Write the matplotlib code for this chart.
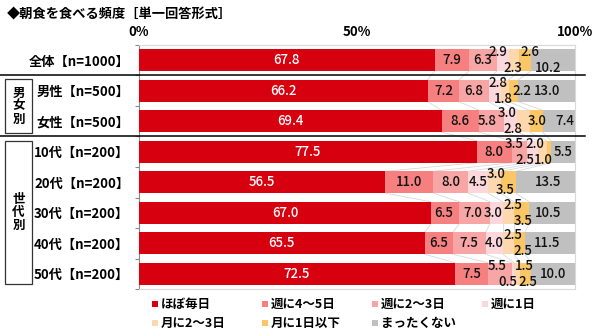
import matplotlib
matplotlib.use("Agg")
import matplotlib.pyplot as plt
import matplotlib.transforms as mtransforms
from matplotlib.patches import Rectangle
import numpy as np

plt.rcParams['font.family'] = ['Noto Sans CJK JP', 'DejaVu Sans']

title = "◆朝食を食べる頻度［単一回答形式］"
row_labels = ["全体【n=1000】", "男性【n=500】", "女性【n=500】",
              "10代【n=200】", "20代【n=200】", "30代【n=200】",
              "40代【n=200】", "50代【n=200】"]
series_names = ["ほぼ毎日", "週に4～5日", "週に2～3日", "週に1日",
                "月に2～3日", "月に1日以下", "まったくない"]
series_colors = ["#d7000f", "#f68080", "#f7a5a5", "#fcd7dc",
                 "#fdd7ae", "#fbc766", "#c0c0c0"]

almost_daily = [67.8, 66.2, 69.4, 77.5, 56.5, 67.0, 65.5, 72.5]
week_4_5 = [7.9, 7.2, 8.6, 8.0, 11.0, 6.5, 6.5, 7.5]
week_2_3 = [6.3, 6.8, 5.8, 3.5, 8.0, 7.0, 7.5, 5.5]
week_1 = [2.9, 2.8, 3.0, 2.5, 4.5, 3.0, 4.0, 0.5]
month_2_3 = [2.3, 1.8, 2.8, 2.0, 3.0, 2.5, 2.5, 1.5]
month_1_less = [2.6, 2.2, 3.0, 1.0, 3.5, 3.5, 2.5, 2.5]
never = [10.2, 13.0, 7.4, 5.5, 13.5, 10.5, 11.5, 10.0]

x_ticks = [0, 50, 100]
x_tick_labels = ["0%", "50%", "100%"]

# value-label placement: vertical (0 centre, 1 above, -1 below)
label_dy = [
    [0, 0, 0, 1, -1, 1, -1],
    [0, 0, 0, 1, -1, 0, 0],
    [0, 0, 0, 1, -1, 0, 0],
    [0, 0, 1, -1, 1, -1, 0],
    [0, 0, 0, 0, 1, -1, 0],
    [0, 0, 0, 0, 1, -1, 0],
    [0, 0, 0, 0, 1, -1, 0],
    [0, 0, 1, -1, 1, -1, 0],
]
# horizontal nudge of value labels, in percent units
label_dx = [
    [0, 0, 0, -1.1, -0.2, 1.2, -1.1],
    [0, 0, 0, 0.7, -0.4, 1.9, 0],
    [0, 0, -1.1, -0.9, -2.4, 0.2, 1.4],
    [0, 0, -1.3, -1.7, -1.7, -1.3, 0],
    [0, 0, 0, 0, 0.5, -0.7, 0.5],
    [0, -0.4, -0.4, -0.8, 1.0, 0.25, -0.9],
    [0, 0, 0, 0, 1.0, 0.7, -0.7],
    [0, 0, -0.7, -1.1, 1.7, 0.4, 0],
]

values = np.array([almost_daily, week_4_5, week_2_3, week_1,
                   month_2_3, month_1_less, never]).T  # rows x series
n_rows = len(row_labels)
y = np.arange(n_rows)
bar_h = 0.72

fig = plt.figure(figsize=(6.0, 3.34), dpi=100)
ax = fig.add_axes([0.2317, 0.1347, 0.7266, 0.7306])

lefts = np.zeros(n_rows)
for j, col in enumerate(series_colors):
    ax.barh(y, values[:, j], left=lefts, height=bar_h, color=col,
            edgecolor='none', zorder=3)
    for i in range(n_rows):
        v = values[i, j]
        cx = lefts[i] + v / 2 + label_dx[i][j]
        cy = y[i] - label_dy[i][j] * 0.27
        ax.text(cx, cy, f"{v:.1f}", ha='center', va='center',
                fontsize=9.5, fontweight='medium',
                color='white' if j == 0 else '#111111', zorder=5)
    lefts = lefts + values[:, j]

# faint series lines joining segment ends of neighbouring bars
cum = np.cumsum(values, axis=1)
for i in range(n_rows - 1):
    for j in range(len(series_names) - 1):
        ax.plot([cum[i, j], cum[i + 1, j]],
                [y[i] + bar_h / 2, y[i + 1] - bar_h / 2],
                color='#d8d8d8', lw=0.6, zorder=2)

ax.set_xlim(0, 100)
ax.set_ylim(n_rows - 0.5, -0.5)
ax.xaxis.tick_top()
ax.set_xticks(x_ticks)
ax.set_xticklabels(x_tick_labels, fontsize=9.5, fontweight='bold')
ax.tick_params(axis='x', length=0, pad=4)
ax.set_yticks(np.arange(n_rows + 1) - 0.5, minor=True)
ax.set_yticks(y)
ax.set_yticklabels(row_labels, fontsize=9.5, fontweight='bold')
ax.tick_params(axis='y', which='major', length=0, pad=7)
ax.tick_params(axis='y', which='minor', length=3, color='#888888', width=0.8)
for s in ['top', 'right', 'bottom']:
    ax.spines[s].set_color('#d9d9d9')
    ax.spines[s].set_linewidth(0.8)
ax.spines['left'].set_color('#888888')
ax.spines['left'].set_linewidth(0.8)

fig.text(0.012, 0.957, title, fontsize=9.5, fontweight='bold',
         ha='left', va='center')

# group separators and group boxes
tr = mtransforms.blended_transform_factory(fig.transFigure, ax.transData)
for yb in [0.5, 2.5]:
    ax.plot([0.0, 0.975], [yb, yb], transform=tr, color='black',
            lw=1.1, clip_on=False, zorder=6)


def group_box(y_top_px, y_bot_px, text):
    x0, x1 = 5 / 600, 32 / 600
    y0 = 1 - y_bot_px / 334
    y1 = 1 - y_top_px / 334
    fig.patches.append(Rectangle((x0, y0), x1 - x0, y1 - y0,
                                 transform=fig.transFigure, fill=False,
                                 edgecolor='#333333', lw=0.9))
    fig.text((x0 + x1) / 2, (y0 + y1) / 2, "\n".join(text), ha='center',
             va='center', fontsize=9, fontweight='bold', linespacing=1.0)


group_box(79, 133, "男女別")
group_box(141, 284, "世代別")

# legend laid out on a fixed grid, four per row
leg_x0, leg_dx = 155 / 600, 110 / 600
leg_y0, leg_dy = 1 - 304 / 334, 19 / 334
sq_w, sq_h = 6 / 600, 6 / 334
for k, (name, col) in enumerate(zip(series_names, series_colors)):
    r, c = divmod(k, 4)
    lx = leg_x0 + c * leg_dx
    ly = leg_y0 - r * leg_dy
    fig.patches.append(Rectangle((lx - sq_w / 2, ly - sq_h / 2), sq_w, sq_h,
                                 transform=fig.transFigure, color=col,
                                 lw=0))
    fig.text(lx + 6 / 600, ly, name, fontsize=9, fontweight='bold',
             ha='left', va='center')

fig.savefig("out.png", dpi=100)
